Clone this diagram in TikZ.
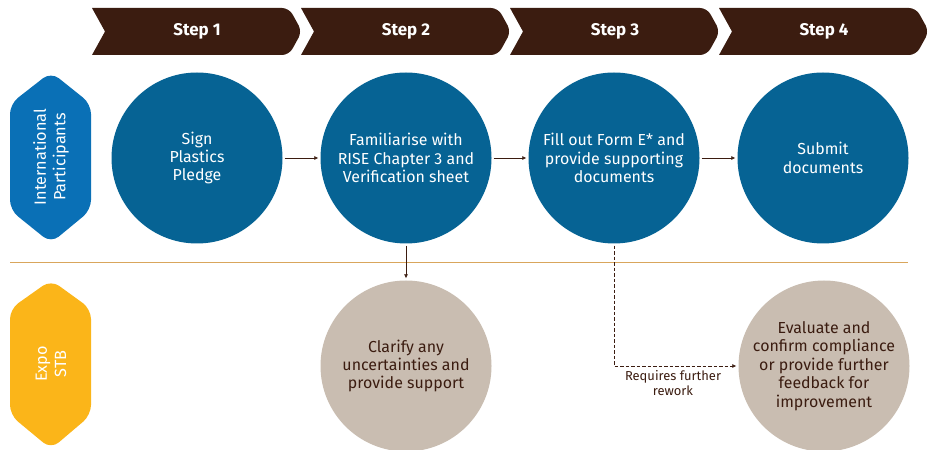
\documentclass[tikz,border=0pt]{standalone}
\usepackage{fontspec}
\setmainfont{Fira Sans}
\usetikzlibrary{arrows.meta}
\definecolor{stepbrown}{HTML}{3B1C10}
\definecolor{actblue}{HTML}{066394}
\definecolor{tagblue}{HTML}{0A70B6}
\definecolor{tagyellow}{HTML}{FBB519}
\definecolor{stbbeige}{HTML}{C9BDB1}
\definecolor{lineorange}{HTML}{D9A65C}
\begin{document}
\begin{tikzpicture}[x=1bp, y=1bp,
  act/.style={circle, fill=actblue, text=white, minimum size=171bp, inner sep=0pt, align=center, font=\fontsize{16}{18.5}\selectfont},
  stb/.style={circle, fill=stbbeige, text=stepbrown, minimum size=171bp, inner sep=0pt, align=center, font=\fontsize{16}{18.5}\selectfont},
  flow/.style={draw=stepbrown, line width=0.6bp, -{Latex[length=4bp,width=4bp]}, shorten <=2bp, shorten >=2bp},
  steplabel/.style={text=white, font=\bfseries\fontsize{17}{18}\selectfont},
  taglabel/.style={text=white, rotate=90, align=center, font=\fontsize{16.3}{19.5}\selectfont}]
\useasboundingbox (0,0) rectangle (936,-450);
% step banners
\foreach \i in {1,...,4}{
  \pgfmathsetmacro{\xl}{92+209*(\i-1)}
  \fill[stepbrown] (\xl,-8) [rounded corners=7bp] -- (\xl+197,-8) -- (\xl+210,-31.5) -- (\xl+197,-55) [sharp corners] -- (\xl,-55) -- (\xl+13,-31.5) -- cycle;
  \node[steplabel] (step\i) at (\xl+105,-31.5) {Step \i};
}
% lane tags
\fill[tagblue, rounded corners=10bp] (51,-72) -- (91,-104) -- (91,-210) -- (51,-243) -- (10,-210) -- (10,-104) -- cycle;
\node[taglabel] (intl) at (51,-157) {International\\Participants};
\fill[tagyellow, rounded corners=10bp] (51,-280) -- (91,-309) -- (91,-415) -- (51,-449) -- (10,-415) -- (10,-309) -- cycle;
\node[taglabel] (expo) at (51,-364) {Expo\\STB};
\draw[lineorange, line width=1bp] (10,-263) -- (908,-263);
% participant actions
\node[act] (act1) at (197,-158) {Sign\\Plastics\\Pledge};
\node[act] (act2) at (406,-158) {Familiarise with\\RISE Chapter 3 and\\Verification sheet};
\node[act] (act3) at (614,-158) {Fill out Form E* and\\provide supporting\\documents};
\node[act] (act4) at (823,-158) {Submit\\documents};
% STB actions
\node[stb] (stb2) at (406,-366) {Clarify any\\uncertainties and\\provide support};
\node[stb] (stb4) at (824,-366) {Evaluate and\\confirm compliance\\or provide further\\feedback for\\improvement};
\draw[flow] (act1) -- (act2);
\draw[flow] (act2) -- (act3);
\draw[flow] (act3) -- (act4);
\draw[flow] (act2) -- (stb2);
\draw[flow, dash pattern=on 3.5bp off 2bp] (act3) |- (stb4);
\node[text=stepbrown, align=center, font=\fontsize{13}{15}\selectfont] (rework) at (673,-383) {Requires further\\rework};
\end{tikzpicture}
\end{document}
